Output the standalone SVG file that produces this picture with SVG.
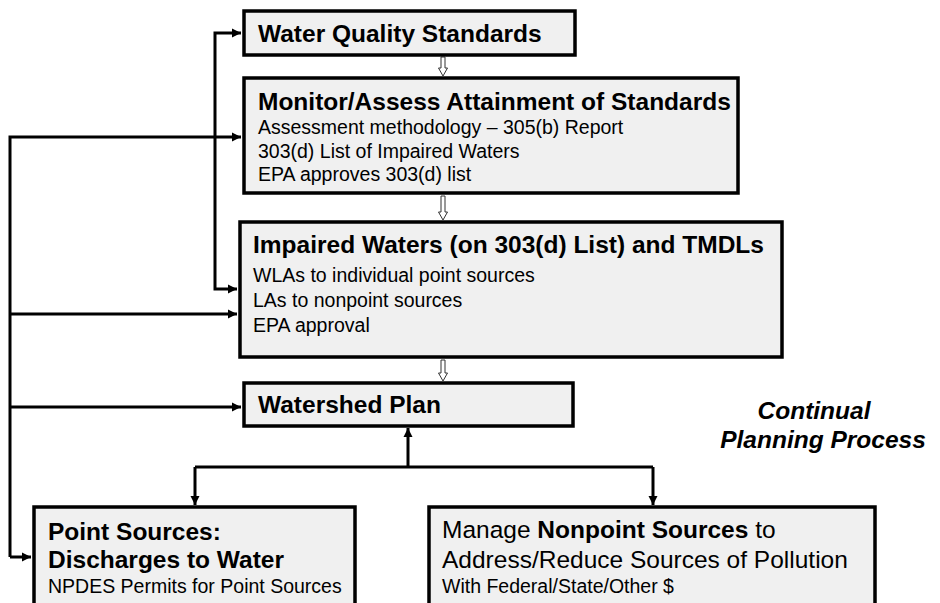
<svg xmlns="http://www.w3.org/2000/svg" width="940" height="603" viewBox="0 0 940 603">
  <defs>
    <marker id="ah" markerUnits="userSpaceOnUse" markerWidth="10" markerHeight="10" refX="9" refY="5" orient="auto">
      <path d="M0,0.5 L9,5 L0,9.5 Z" fill="#000"/>
    </marker>
    <style>
      .box { fill: #f0f0f0; stroke: #000; stroke-width: 3.5; }
      .conn { fill: none; stroke: #000; stroke-width: 3; }
      .hollow { fill: #fff; stroke: #333; stroke-width: 1; }
      text { font-family: "Liberation Sans", Arial, sans-serif; fill: #000; }
      .t { font-size: 24.5px; font-weight: bold; }
      .s { font-size: 19.5px; }
      .b { font-weight: bold; }
      .cp { font-size: 24.5px; font-weight: bold; font-style: italic; text-anchor: middle; }
    </style>
  </defs>

  <g id="connectors">
    <path class="conn" d="M215,161 V33 H241" marker-end="url(#ah)"/>
    <path class="conn" d="M215,161 V289 H237" marker-end="url(#ah)"/>
    <path class="conn" d="M10,557 V137 H241" marker-end="url(#ah)"/>
    <path class="conn" d="M10,314 H237" marker-end="url(#ah)"/>
    <path class="conn" d="M10,407 H241" marker-end="url(#ah)"/>
    <path class="conn" d="M10,557 H31" marker-end="url(#ah)"/>
    <path class="conn" d="M408,467 V428" marker-end="url(#ah)"/>
    <path class="conn" d="M195,467 H653"/>
    <path class="conn" d="M195,467 V505" marker-end="url(#ah)"/>
    <path class="conn" d="M653,467 V505" marker-end="url(#ah)"/>
    <path class="hollow" d="M441,57 H445 V68 H447.5 L443,76 L438.5,68 H441 Z"/>
    <path class="hollow" d="M441,196 H445 V212 H447.5 L443,220 L438.5,212 H441 Z"/>
    <path class="hollow" d="M441,360 H445 V373 H447.5 L443,381 L438.5,373 H441 Z"/>
  </g>

  <g id="wqs">
    <rect class="box" x="244" y="11" width="331" height="44"/>
    <text class="t" x="258" y="42">Water Quality Standards</text>
  </g>

  <g id="monitor">
    <rect class="box" x="244" y="78" width="494" height="115"/>
    <text class="t" x="258" y="110">Monitor/Assess Attainment of Standards</text>
    <text class="s" x="258" y="134">Assessment methodology – 305(b) Report</text>
    <text class="s" x="258" y="158">303(d) List of Impaired Waters</text>
    <text class="s" x="258" y="181">EPA approves 303(d) list</text>
  </g>

  <g id="impaired">
    <rect class="box" x="240" y="222" width="542" height="135"/>
    <text class="t" x="253" y="253">Impaired Waters (on 303(d) List) and TMDLs</text>
    <text class="s" x="253" y="282">WLAs to individual point sources</text>
    <text class="s" x="253" y="307">LAs to nonpoint sources</text>
    <text class="s" x="253" y="332">EPA approval</text>
  </g>

  <g id="watershed">
    <rect class="box" x="244" y="383" width="329" height="43"/>
    <text class="t" x="258" y="413">Watershed Plan</text>
  </g>

  <g id="point">
    <rect class="box" x="34" y="507" width="321" height="110"/>
    <text class="t" x="48" y="540">Point Sources:</text>
    <text class="t" x="48" y="568">Discharges to Water</text>
    <text class="s" x="48" y="593">NPDES Permits for Point Sources</text>
  </g>

  <g id="nonpoint">
    <rect class="box" x="429" y="507" width="446" height="110"/>
    <text x="442" y="538" font-size="24.5">Manage <tspan class="b">Nonpoint Sources</tspan> to</text>
    <text x="442" y="568" font-size="24.5">Address/Reduce Sources of Pollution</text>
    <text class="s" x="442" y="593">With Federal/State/Other $</text>
  </g>

  <g id="label">
    <text class="cp" x="814" y="419">Continual</text>
    <text class="cp" x="823" y="448">Planning Process</text>
  </g>
</svg>
